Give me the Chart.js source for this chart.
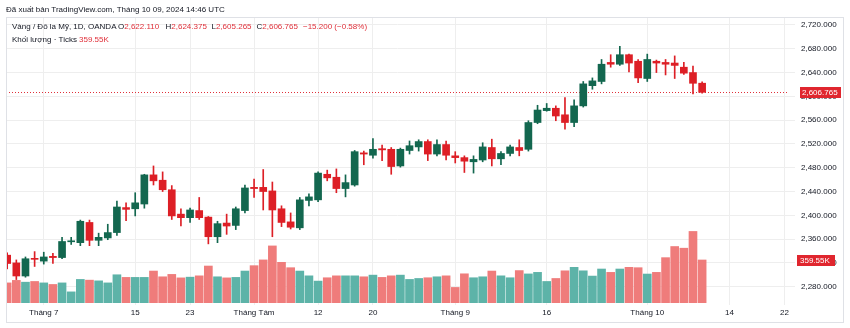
<!DOCTYPE html>
<html>
<head>
<meta charset="utf-8">
<script src="https://cdn.jsdelivr.net/npm/chart.js@4.4.1/dist/chart.umd.min.js"></script>
<style>
  html, body { margin: 0; padding: 0; background: #ffffff; }
  #wrap { width: 850px; height: 328px; position: relative; }
  canvas { display: block; }
</style>
</head>
<body>
<div id="wrap"><canvas id="chart" width="850" height="328"></canvas></div>
<script>
// XAU/USD daily candles, 25 Jun – 9 Oct 2024 (OANDA), volume in thousands of ticks
const opens = [
  2333, 2320, 2298, 2327, 2323, 2331, 2329, 2355.5, 2354, 2388, 2358, 2362, 2371, 2413, 2411, 2419,
  2468, 2459, 2443, 2402, 2396, 2408, 2397, 2364, 2387, 2383, 2408, 2447, 2447, 2441, 2411, 2389,
  2379, 2425, 2426, 2469, 2464, 2445, 2451, 2505, 2501, 2512, 2511, 2483, 2509, 2515, 2524, 2503,
  2519, 2500, 2497, 2490, 2493, 2514, 2495, 2504, 2514, 2511, 2556, 2576, 2580, 2569, 2556, 2584,
  2618, 2625, 2657, 2654, 2670, 2659, 2630, 2659, 2657, 2656, 2649, 2640, 2622.110
];
const highs = [
  2337, 2325, 2330, 2339, 2338, 2336, 2363, 2363, 2392, 2392, 2370, 2385, 2424, 2421, 2438, 2469,
  2483, 2473, 2450, 2411, 2412, 2430, 2398, 2390, 2402, 2414, 2451, 2461, 2477, 2456, 2416, 2404,
  2430, 2436, 2473, 2476, 2478, 2468, 2509, 2508, 2529, 2518, 2514, 2513, 2525, 2527, 2527, 2527,
  2525, 2507, 2500, 2500, 2522, 2528, 2507, 2518, 2527, 2559, 2585, 2588, 2584, 2598, 2594, 2625,
  2631, 2662, 2670, 2684, 2671, 2662, 2671, 2661, 2662, 2668, 2657, 2651, 2624.375
];
const lows = [
  2310, 2292, 2296, 2314, 2318, 2319, 2327, 2351, 2349, 2349, 2349, 2359, 2366, 2391, 2399, 2412,
  2451, 2440, 2393, 2382, 2388, 2393, 2352, 2354, 2368, 2376, 2404, 2430, 2409, 2364, 2381, 2377,
  2376, 2416, 2423, 2458, 2438, 2431, 2449, 2485, 2496, 2492, 2469, 2481, 2503, 2508, 2492, 2500,
  2493, 2488, 2472, 2471, 2490, 2483, 2485, 2500, 2500, 2508, 2554, 2575, 2559, 2545, 2549, 2582,
  2612, 2621, 2649, 2652, 2641, 2623, 2625, 2640, 2636, 2630, 2637, 2604, 2605.265
];
const closes = [
  2319, 2298, 2327, 2326, 2330, 2329, 2356, 2356.3, 2390, 2358, 2363, 2371, 2414, 2410, 2421, 2468,
  2458, 2443, 2399, 2396, 2409, 2396, 2364, 2386, 2382, 2411, 2446, 2445, 2440, 2409, 2388, 2380,
  2426, 2431, 2471, 2463, 2445, 2455, 2507, 2503, 2511, 2510, 2482, 2511, 2517, 2524, 2503, 2519,
  2501, 2497, 2491, 2494, 2515, 2495, 2504, 2515, 2509, 2556, 2577, 2580, 2567, 2556, 2584, 2621,
  2626, 2654, 2654, 2670, 2656, 2631, 2662, 2656, 2654, 2652, 2639, 2621.965, 2606.765
];
const volumesK = [
  168, 189, 174, 180, 168, 155, 168, 93, 197, 191, 185, 168, 236, 214, 214, 214,
  267, 219, 239, 210, 216, 227, 309, 219, 210, 214, 267, 312, 360, 477, 340, 295,
  267, 227, 183, 211, 227, 227, 227, 219, 233, 214, 227, 233, 197, 205, 211, 219,
  227, 130, 244, 211, 219, 267, 227, 211, 271, 243, 256, 180, 205, 269, 298, 269,
  225, 284, 256, 284, 298, 295, 242, 256, 379, 472, 458, 598, 359.55
];

// Time axis: one slot per weekday, running past the last candle
const FIRST_DAY = '2024-06-25';
const LAST_DAY = '2024-10-22';
const tickDates  = ['2024-07-01', '2024-07-15', '2024-07-23', '2024-08-01', '2024-08-12', '2024-08-20',
                    '2024-09-02', '2024-09-16', '2024-10-01', '2024-10-14', '2024-10-22'];
const tickLabels = ['Tháng 7', '15', '23', 'Tháng Tám', '12', '20',
                    'Tháng 9', '16', 'Tháng 10', '14', '22'];
const priceTicks = [2280, 2320, 2360, 2400, 2440, 2480, 2520, 2560, 2600, 2640, 2680, 2720];

function weekdaysBetween(startIso, endIso) {
  const out = [];
  const d = new Date(startIso + 'T00:00:00Z');
  const end = new Date(endIso + 'T00:00:00Z');
  while (d <= end) {
    const wd = d.getUTCDay();
    if (wd !== 0 && wd !== 6) out.push(d.toISOString().slice(0, 10));
    d.setUTCDate(d.getUTCDate() + 1);
  }
  return out;
}
const days = weekdaysBetween(FIRST_DAY, LAST_DAY);

const FONT = '"Liberation Sans", Arial, sans-serif';
const TEXT = '#131722';
const RED_TXT = '#e0303a';
const UP = '#13674f', DOWN = '#dd1f26';
const VOL_UP = '#5db3a8', VOL_DOWN = '#ef7c7b';
const GRID = '#eeeeee';

const isUp = opens.map((o, i) => closes[i] >= o);
const last = closes.length - 1;

const fmt3 = v => v.toLocaleString('en-US', { minimumFractionDigits: 3, maximumFractionDigits: 3 });
const signed = v => (v < 0 ? '\u2212' : '+');

// Frame, legend, last-price line and axis badges
const overlay = {
  id: 'overlay',
  beforeDatasetsDraw(chart) {
    const { ctx, chartArea, scales } = chart;
    const y = scales.y.getPixelForValue(closes[last]);
    ctx.save();
    ctx.strokeStyle = '#e0303a';
    ctx.lineWidth = 1;
    ctx.setLineDash([1, 2]);
    ctx.beginPath();
    ctx.moveTo(chartArea.left, Math.round(y) + 0.5);
    ctx.lineTo(chartArea.right, Math.round(y) + 0.5);
    ctx.stroke();
    ctx.restore();
  },
  afterDraw(chart) {
    const { ctx, scales } = chart;
    ctx.save();
    // outer frame
    ctx.strokeStyle = '#dfe1e6';
    ctx.lineWidth = 1;
    ctx.strokeRect(6.5, 17.5, 837, 305);

    // publication line
    ctx.textBaseline = 'middle';
    ctx.textAlign = 'left';
    ctx.font = '8px ' + FONT;
    ctx.fillStyle = TEXT;
    ctx.fillText('Đã xuất bản TradingView.com, Tháng 10 09, 2024 14:46 UTC', 6, 10);

    // symbol legend
    const chg = closes[last] - closes[last - 1];
    const pct = chg / closes[last - 1] * 100;
    const chgText = signed(chg) + fmt3(Math.abs(chg)) + ' (' + signed(pct) + Math.abs(pct).toFixed(2) + '%)';
    const parts = [
      [12, 'Vàng / Đô la Mỹ, 1D, OANDA', TEXT],
      [118, 'O', TEXT], [null, fmt3(opens[last]), RED_TXT],
      [165.5, 'H', TEXT], [null, fmt3(highs[last]), RED_TXT],
      [211.5, 'L', TEXT], [null, fmt3(lows[last]), RED_TXT],
      [256.5, 'C', TEXT], [null, fmt3(closes[last]), RED_TXT],
      [303, chgText, RED_TXT]
    ];
    let x = 0;
    for (const [px, txt, col] of parts) {
      if (px !== null) x = px;
      ctx.fillStyle = col;
      ctx.fillText(txt, x, 27);
      x += ctx.measureText(txt).width;
    }
    ctx.fillStyle = TEXT;
    ctx.fillText('Khối lượng · Ticks', 12, 40);
    ctx.fillStyle = RED_TXT;
    ctx.fillText(volumesK[last].toFixed(2) + 'K', 79, 40);

    // last price badge
    const py = Math.round(scales.y.getPixelForValue(closes[last]));
    ctx.fillStyle = '#e0262e';
    ctx.fillRect(800, py - 5, 41, 11);
    ctx.fillStyle = '#ffffff';
    ctx.fillText(fmt3(closes[last]), 802, py + 0.5);

    // last volume badge
    const vy = Math.round(scales.v.getPixelForValue(volumesK[last]));
    ctx.fillStyle = '#e0262e';
    ctx.fillRect(797, vy - 5, 38, 11);
    ctx.fillStyle = '#ffffff';
    ctx.fillText(volumesK[last].toFixed(2) + 'K', 800, vy + 0.5);
    ctx.restore();
  }
};

const xy = (arrA, arrB) => arrA.map((a, i) => ({ x: i, y: arrB ? [a, arrB[i]] : a }));

new Chart(document.getElementById('chart'), {
  type: 'bar',
  data: {
    datasets: [
      {
        label: 'Thân nến',
        data: xy(opens, closes),
        backgroundColor: isUp.map(u => (u ? UP : DOWN)),
        barThickness: 7,
        minBarLength: 1,
        grouped: false,
        yAxisID: 'y',
        order: 1
      },
      {
        label: 'Bóng nến',
        data: xy(lows, highs),
        backgroundColor: isUp.map(u => (u ? UP : DOWN)),
        barThickness: 1,
        grouped: false,
        yAxisID: 'y',
        order: 2
      },
      {
        label: 'Khối lượng',
        data: xy(volumesK),
        backgroundColor: isUp.map(u => (u ? VOL_UP : VOL_DOWN)),
        barThickness: 8,
        grouped: false,
        yAxisID: 'v',
        order: 3
      }
    ]
  },
  options: {
    responsive: false,
    animation: false,
    devicePixelRatio: 1,
    layout: { padding: { left: 6, right: 7, top: 17, bottom: 6 } },
    plugins: { legend: { display: false }, tooltip: { enabled: false } },
    scales: {
      x: {
        type: 'linear',
        offset: false,
        min: -0.13,
        max: 85.5,
        grid: { color: GRID, tickLength: 2, drawTicks: true, offset: false },
        border: { display: false },
        afterBuildTicks(axis) {
          axis.ticks = tickDates.map(d => ({ value: days.indexOf(d) }));
        },
        afterFit(axis) { axis.height = 19; },
        ticks: {
          autoSkip: false,
          maxRotation: 0,
          padding: 3,
          color: TEXT,
          font: { family: FONT, size: 8 },
          callback(v) {
            const k = tickDates.indexOf(days[v]);
            return k >= 0 ? tickLabels[k] : '';
          }
        }
      },
      y: {
        position: 'right',
        min: 2252.6,
        max: 2733.4,
        grid: { color: GRID, tickLength: 6 },
        border: { display: false },
        afterBuildTicks(axis) {
          axis.ticks = priceTicks.map(v => ({ value: v }));
        },
        afterFit(axis) { axis.width = 54; },
        ticks: {
          padding: 6,
          color: TEXT,
          font: { family: FONT, size: 8 },
          callback: v => fmt3(v)
        }
      },
      v: {
        display: false,
        position: 'right',
        min: 0,
        max: 2390,
        grid: { display: false }
      }
    }
  },
  plugins: [overlay]
});
</script>
</body>
</html>
